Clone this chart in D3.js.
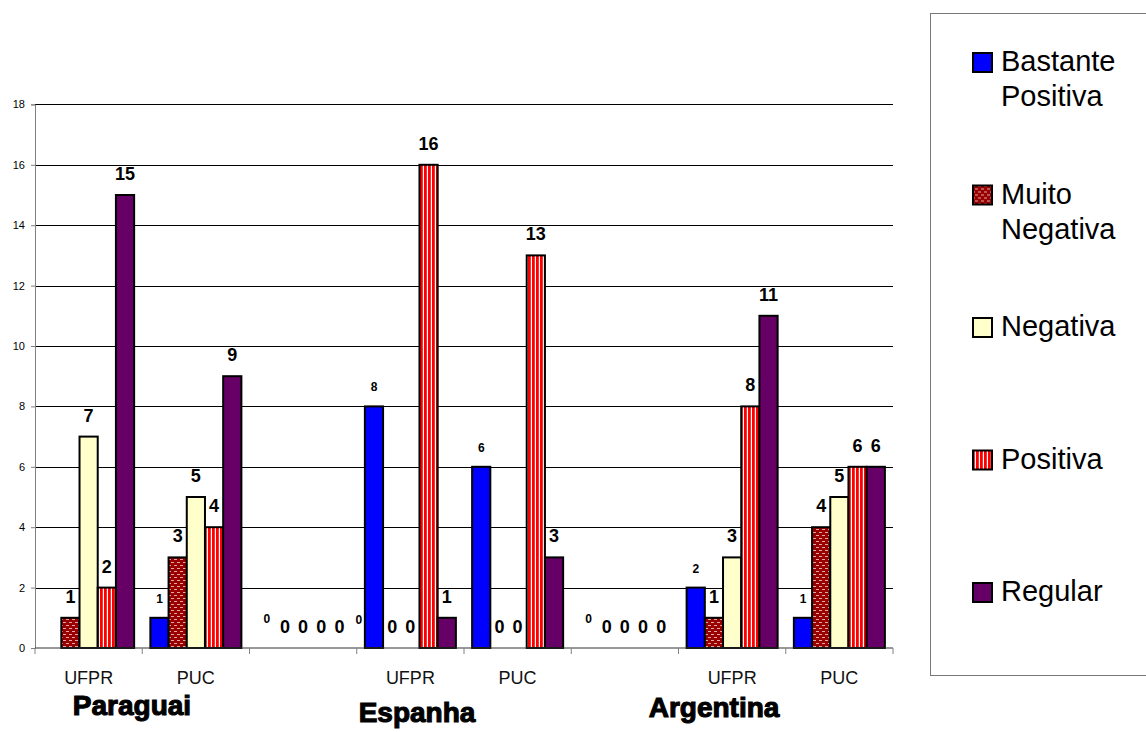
<!DOCTYPE html>
<html><head><meta charset="utf-8">
<script src="https://cdn.jsdelivr.net/npm/d3@7"></script>
<style>body{margin:0;background:#fff}svg{display:block}</style>
</head><body>
<svg id="chart" width="1146" height="732"></svg>
<script>
// ---- data ----
const categories = ["UFPR","PUC","","UFPR","PUC","","UFPR","PUC"];
const groups = ["Paraguai","Espanha","Argentina"];
const series = ["Bastante Positiva","Muito Negativa","Negativa","Positiva","Regular"];
const bastantePositiva = [null,1,0,8,6,0,2,1];
const muitoNegativa   = [1,3,0,0,0,0,1,4];
const negativa        = [7,5,0,0,0,0,3,5];
const positiva        = [2,4,0,16,13,0,8,6];
const regular         = [15,9,0,1,3,0,11,6];
const yTicks = [0,2,4,6,8,10,12,14,16,18];
const values = [bastantePositiva, muitoNegativa, negativa, positiva, regular];

// ---- layout ----
const plotLeft = 35, plotRight = 893, plotTop = 104.4, plotBottom = 648;
const svg = d3.select("#chart");
const F = "'Liberation Sans', Arial, sans-serif";

// patterns
const defs = svg.append("defs");
const pm = defs.append("pattern").attr("id","pMN").attr("patternUnits","userSpaceOnUse").attr("width",6).attr("height",6);
pm.append("rect").attr("width",6).attr("height",6).attr("fill","#990000");
pm.append("path").attr("d","M0,2 L1,1 L2,2 L3,1 M3,5 L4,4 L5,5 L6,4").attr("fill","none").attr("stroke","#f5d0d0").attr("stroke-width",0.8);
const pp = defs.append("pattern").attr("id","pP").attr("patternUnits","userSpaceOnUse").attr("width",4).attr("height",4);
pp.append("rect").attr("width",4).attr("height",4).attr("fill","#ff0000");
pp.append("rect").attr("x",2.8).attr("width",1.2).attr("height",4).attr("fill","#ffffff");

const fills = ["#0000ff","url(#pMN)","#ffffcc","url(#pP)","#660066"];

const x0 = d3.scaleBand().domain(d3.range(categories.length)).range([plotLeft,plotRight]).paddingInner(0).paddingOuter(0);
const x1 = d3.scaleBand().domain(d3.range(series.length)).range([0,x0.bandwidth()]).paddingInner(0).paddingOuter(0.446);
const y = d3.scaleLinear().domain([0,18]).range([plotBottom,plotTop]);

// gridlines
svg.append("g").selectAll("line").data(yTicks.filter(d=>d>0)).join("line")
  .attr("x1",plotLeft).attr("x2",plotRight).attr("y1",d=>Math.round(y(d))+0.5).attr("y2",d=>Math.round(y(d))+0.5)
  .attr("stroke","#000").attr("stroke-width",1);

// y axis
const ya = svg.append("g").attr("transform",`translate(${plotLeft},0)`)
  .call(d3.axisLeft(y).tickValues(yTicks).tickSize(4).tickPadding(6));
ya.select(".domain").attr("stroke","#808080");
ya.selectAll(".tick line").attr("stroke","#808080");
ya.selectAll("text").attr("font-family",F).attr("font-size",11).attr("fill","#000");

// bars
const bars = [];
values.forEach((arr,s)=>arr.forEach((v,c)=>{ if(v!==null) bars.push({s,c,v}); }));
svg.append("g").selectAll("rect").data(bars.filter(d=>d.v>0)).join("rect")
  .attr("x",d=>x0(d.c)+x1(d.s)).attr("width",x1.bandwidth())
  .attr("y",d=>y(d.v)).attr("height",d=>y(0)-y(d.v))
  .attr("fill",d=>fills[d.s]).attr("stroke","#000").attr("stroke-width",2);

// x axis
svg.append("line").attr("x1",plotLeft).attr("x2",plotRight).attr("y1",plotBottom).attr("y2",plotBottom)
  .attr("stroke","#333").attr("stroke-width",1);
const bounds = d3.range(categories.length+1).map(i=> i<categories.length ? x0(i) : plotRight);
svg.append("g").selectAll("line").data(bounds).join("line")
  .attr("x1",d=>d).attr("x2",d=>d).attr("y1",plotBottom).attr("y2",plotBottom+6)
  .attr("stroke","#808080");
svg.append("g").selectAll("text").data(categories).join("text")
  .attr("x",(d,i)=>x0(i)+x0.bandwidth()/2).attr("y",684)
  .attr("text-anchor","middle").attr("font-family",F).attr("font-size",18).attr("fill","#111")
  .text(d=>d);

// value labels
svg.append("g").selectAll("text").data(bars).join("text")
  .attr("x",d=>x0(d.c)+x1(d.s)+x1.bandwidth()/2)
  .attr("y",d=> d.s===0 && d.v===0 ? y(d.v)-25 : y(d.v)-15)
  .attr("text-anchor","middle").attr("font-family",F).attr("font-weight","bold")
  .attr("font-size",d=>d.s===0?12:18).attr("fill","#000")
  .text(d=>d.v);
// stray zero label at start of Espanha UFPR
svg.append("text").attr("x",x0(3)+2).attr("y",y(0)-24).attr("text-anchor","middle")
  .attr("font-family",F).attr("font-weight","bold").attr("font-size",12).text("0");

// group labels
const groupPos = [[132,715],[417,722],[714,717]];
svg.append("g").selectAll("text").data(groups).join("text")
  .attr("x",(d,i)=>groupPos[i][0]).attr("y",(d,i)=>groupPos[i][1])
  .attr("text-anchor","middle").attr("font-family",F).attr("font-weight","bold")
  .attr("font-size",28).attr("fill","#000").attr("stroke","#000").attr("stroke-width",1.1)
  .text(d=>d);

// legend
svg.append("rect").attr("x",930.5).attr("y",13.5).attr("width",260).attr("height",662)
  .attr("fill","none").attr("stroke","#777").attr("stroke-width",1);
const legendLines = [["Bastante","Positiva"],["Muito","Negativa"],["Negativa"],["Positiva"],["Regular"]];
const lg = svg.append("g").selectAll("g").data(series).join("g")
  .attr("transform",(d,i)=>`translate(972,${52+i*132.5})`);
lg.append("rect").attr("x",1).attr("y",1).attr("width",19).attr("height",19)
  .attr("fill",(d,i)=>fills[i]).attr("stroke","#000").attr("stroke-width",2);
lg.append("text").attr("font-family",F).attr("font-size",29).attr("fill","#000")
  .each(function(d,i){
    d3.select(this).selectAll("tspan").data(legendLines[i]).join("tspan")
      .attr("x",29).attr("y",(t,j)=>19+j*35).text(t=>t);
  });
</script>
</body></html>
